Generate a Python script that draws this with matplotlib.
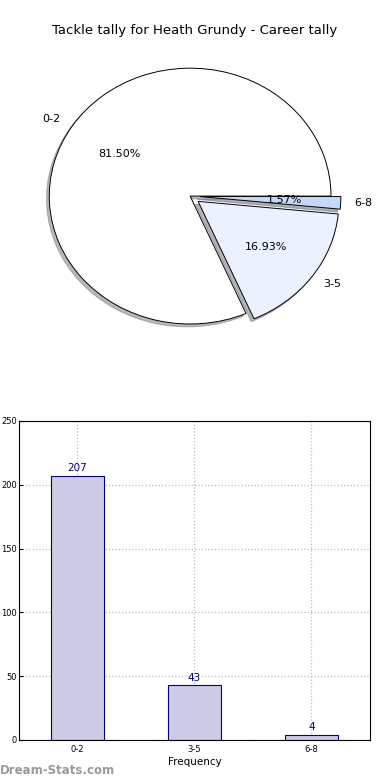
import matplotlib
matplotlib.use('Agg')
import matplotlib.pyplot as plt

categories = ['0-2', '3-5', '6-8']
counts = [207, 43, 4]
pie_colors = ['#ffffff', '#ebf1fe', '#c5d8f8']

fig = plt.figure(figsize=(3.9, 7.8), dpi=100)

# pie
ax1 = fig.add_axes([0.036, 0.5436, 0.903, 0.41])
ax1.pie(counts, labels=categories, colors=pie_colors, explode=(0, 0.07, 0.07),
        autopct='%1.2f%%', shadow={'ox': -0.014, 'oy': -0.016, 'shade': 0.55},
        startangle=0,
        wedgeprops={'edgecolor': 'black', 'linewidth': 0.7},
        textprops={'fontsize': 8})
ax1.set_aspect('auto')
ax1.set_xlim(-1.25, 1.25)
ax1.set_ylim(-1.25, 1.25)
fig.text(0.5, 0.961, 'Tackle tally for Heath Grundy - Career tally',
         ha='center', va='center', fontsize=9.5)

# bar
ax2 = fig.add_axes([0.0487, 0.0513, 0.9, 0.409])
x = range(len(categories))
ax2.bar(x, counts, width=0.45, color='#ccccE6', edgecolor='navy', linewidth=0.8, zorder=2)
for i, v in zip(x, counts):
    ax2.text(i, v + 2, str(v), ha='center', va='bottom', color='navy', fontsize=7.5)
ax2.set_xlim(-0.5, 2.5)
ax2.set_ylim(0, 250)
ax2.set_yticks(range(0, 251, 50))
ax2.set_xticks(list(x))
ax2.set_xticklabels(categories)
ax2.tick_params(labelsize=6, direction='in', length=3)
ax2.tick_params(axis='y', pad=1.5)
ax2.grid(True, linestyle=':', color='#bbbbbb', linewidth=0.9, zorder=0)
ax2.set_axisbelow(True)
ax2.set_xlabel('Frequency', fontsize=7.5, labelpad=2)

fig.text(0.0, 0.012, 'Dream-Stats.com', color='#999999', fontsize=8.5,
         fontweight='bold', ha='left', va='center')

fig.savefig('out.png', dpi=100)
